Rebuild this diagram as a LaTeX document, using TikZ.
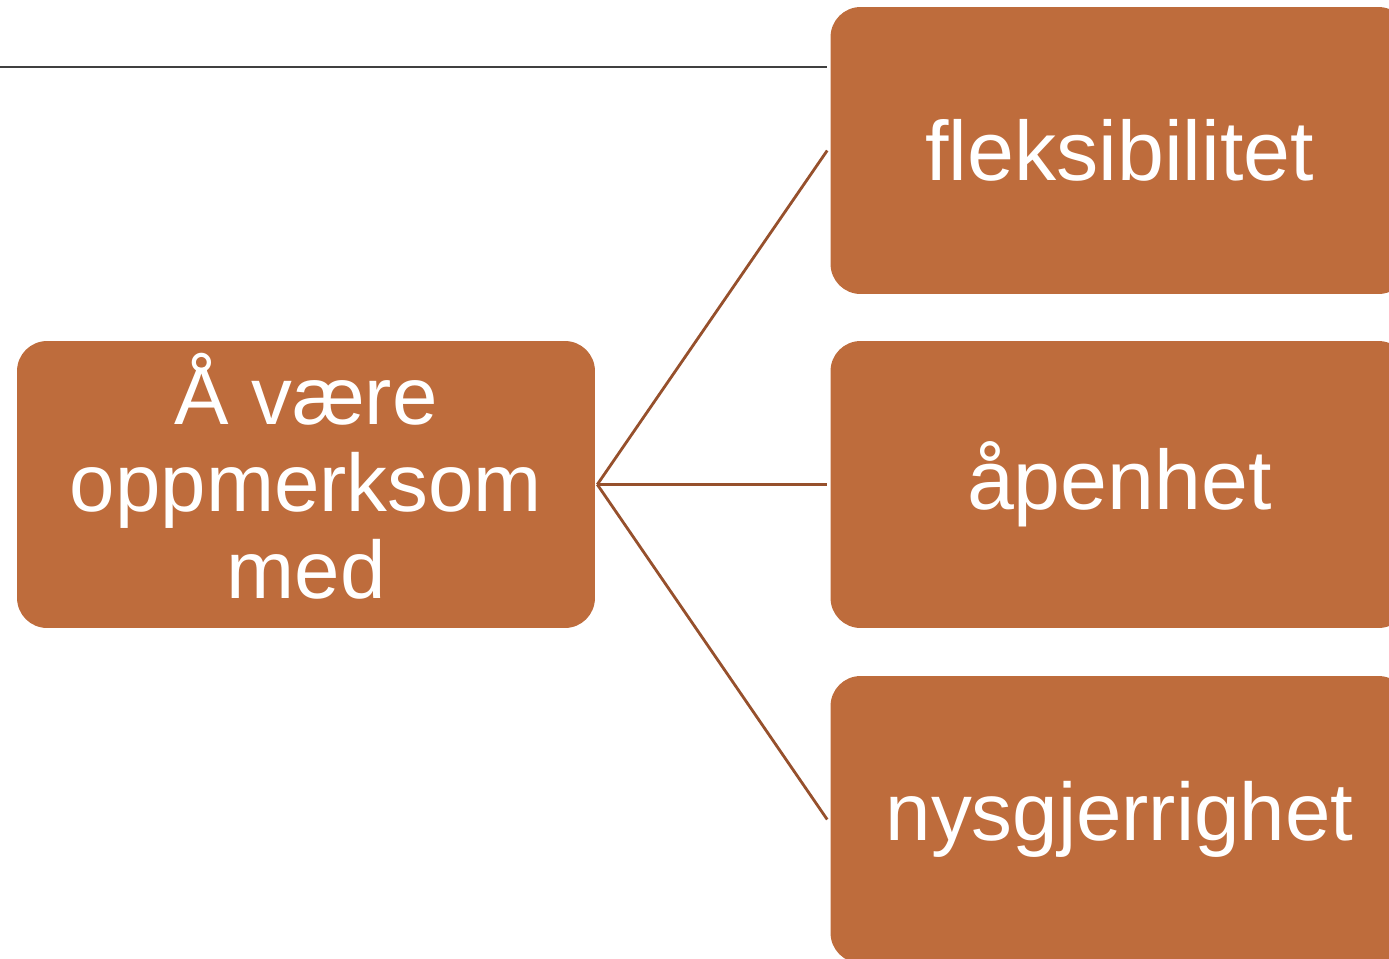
\documentclass[tikz,border=0pt]{standalone}
\usepackage{fontspec}
\setmainfont{Liberation Sans}
\definecolor{kassefarge}{HTML}{BE6C3C}
\definecolor{strekfarge}{HTML}{96502C}
\definecolor{linjefarge}{HTML}{404040}

\begin{document}
\begin{tikzpicture}[x=0.02cm, y=-0.02cm,
        kasse/.style={fill=kassefarge, rounded corners=0.6cm, minimum width=11.56cm, minimum height=5.74cm,
            inner sep=0pt, text=white, align=center, font=\fontsize{48}{49.5}\selectfont},
        strek/.style={draw=strekfarge, line width=1.6pt}]
        \useasboundingbox (0,0) rectangle (1389,958);
        \clip (0,0) rectangle (1389,958);

        % Kasser
        \node [kasse, text depth=0.35cm, font=\fontsize{46.5}{49.5}\selectfont] (hoved) at (306,484.5) {Å være\\oppmerksom\\med};
        \node [kasse] (fleks) at (1119.5,150.5) {fleksibilitet};
        \node [kasse] (aapen) at (1119.5,484.5) {åpenhet};
        \node [kasse, font=\fontsize{46.5}{49.5}\selectfont] (nysgjerrig) at (1119.5,819.5) {nysgjerrighet};

        % Linje oppe
        \coordinate (venstre) at (0,67);
        \draw [linjefarge, line width=1.2pt] (venstre) -- ([xshift=-0.06cm]venstre -| fleks.west);

        % Streker
        \foreach \ende in {fleks, aapen, nysgjerrig}
            \draw [strek] ([xshift=0.04cm]hoved.east) -- ([xshift=-0.06cm]\ende.west);
\end{tikzpicture}
\end{document}
